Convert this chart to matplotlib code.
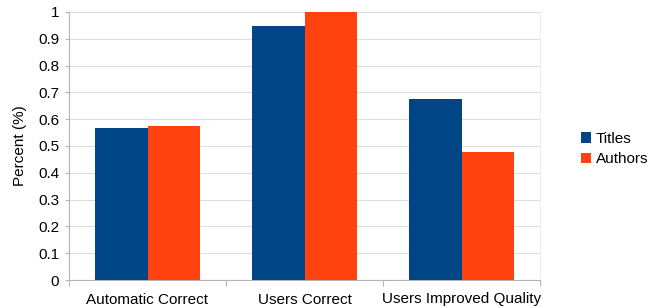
import matplotlib
matplotlib.use("Agg")
import matplotlib.pyplot as plt
import numpy as np

categories = ["Automatic Correct", "Users Correct", "Users Improved Quality"]
titles = [0.566, 0.947, 0.674]
authors = [0.576, 1.0, 0.479]
series_names = ["Titles", "Authors"]
colors = ["#004586", "#ff420e"]
yticks = [0, 0.1, 0.2, 0.3, 0.4, 0.5, 0.6, 0.7, 0.8, 0.9, 1]
ytick_labels = ["0", "0.1", "0.2", "0.3", "0.4", "0.5", "0.6", "0.7", "0.8", "0.9", "1"]

plt.rcParams['font.family'] = ['Liberation Sans', 'DejaVu Sans']

fig = plt.figure(figsize=(6.49, 3.07), dpi=100)
ax = fig.add_axes([69/649, 1 - 280/307, (540-69)/649, (280-12)/307])

x = np.arange(len(categories))
w = 0.333
ax.bar(x - w/2, titles, w, color=colors[0], label=series_names[0], zorder=3)
ax.bar(x + w/2, authors, w, color=colors[1], label=series_names[1], zorder=3)

ax.set_xlim(-0.5, len(categories) - 0.5)
ax.set_ylim(0, 1)
ax.set_yticks(yticks)
ax.set_yticklabels(ytick_labels, fontsize=11)
ax.set_xticks(x)
ax.set_xticklabels(categories, fontsize=11)
ax.tick_params(axis='x', length=0, pad=9)
ax.set_xticks(np.arange(len(categories) + 1) - 0.5, minor=True)
ax.tick_params(axis='x', which='minor', length=4, color='#b3b3b3', width=0.8)
ax.tick_params(axis='y', length=3, color='#b3b3b3', width=0.8, pad=4)

ax.yaxis.grid(True, color='#dddddd', linewidth=0.8, zorder=0)
ax.spines['top'].set_visible(False)
ax.spines['right'].set_color('#eeeeee')
ax.spines['left'].set_color('#b3b3b3')
ax.spines['bottom'].set_color('#b3b3b3')
for s in ['left', 'bottom', 'right']:
    ax.spines[s].set_linewidth(0.8)

ax.set_ylabel("Percent (%)", fontsize=11, labelpad=8)

leg = fig.legend(loc='center left', bbox_to_anchor=(581/649, 1 - 149/307), frameon=False,
                 fontsize=11, handlelength=0.65, handleheight=0.65, handletextpad=0.3,
                 labelspacing=0.4, borderaxespad=0, borderpad=0)

fig.savefig("out.png", dpi=100)
